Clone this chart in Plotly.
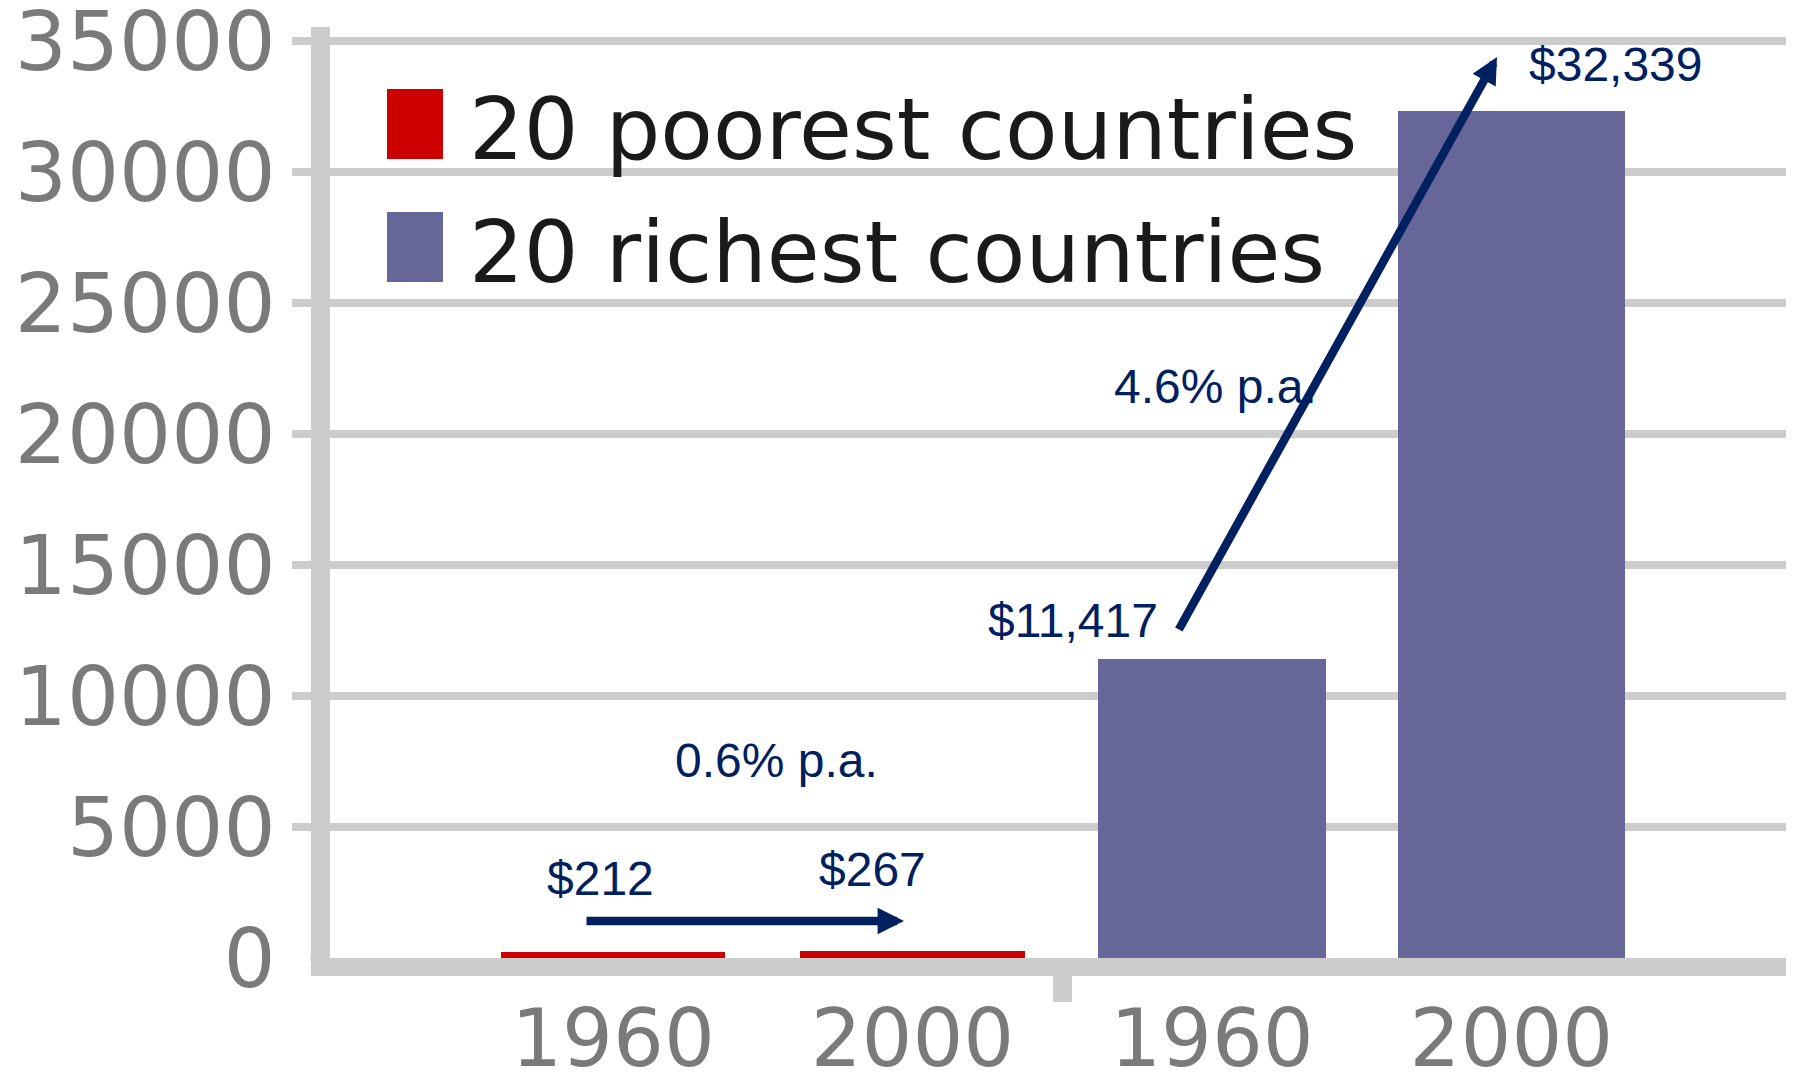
import plotly.graph_objects as go

# GDP per capita (constant US$), 20 poorest vs 20 richest countries
years = ["1960", "2000", "1960", "2000"]
poorest_values = [212, 267]
richest_values = [11417, 32339]
poorest_name = "20 poorest countries"
richest_name = "20 richest countries"
poorest_growth = "0.6% p.a."
richest_growth = "4.6% p.a."
y_ticks = [0, 5000, 10000, 15000, 20000, 25000, 30000, 35000]

RED = "#cc0000"
PURPLE = "#666699"
NAVY = "#002060"
GRID = "#cccccc"
TICK_GRAY = "#7a7a7a"

W, H = 1793, 1077
ML, MR, MT, MB = 330, 7, 27, 119
PW, PH = W - ML - MR, H - MT - MB

X_RANGE = [-0.945, 3.917]
Y_RANGE = [0, 35534]


def paper_x(px):
    return (px - ML) / PW


def paper_y(py):
    return (H - MB - py) / PH


def data_x(px):
    return X_RANGE[0] + (px - ML) / PW * (X_RANGE[1] - X_RANGE[0])


def data_y(py):
    return Y_RANGE[0] + (H - MB - py) / PH * (Y_RANGE[1] - Y_RANGE[0])


pos = list(range(len(years)))
poor_x = pos[:len(poorest_values)]
rich_x = pos[len(poorest_values):]

fig = go.Figure()
fig.add_trace(go.Bar(x=poor_x, y=poorest_values, name=poorest_name,
                     marker=dict(color=RED, line=dict(width=0)), width=0.75,
                     showlegend=False, hoverinfo="skip"))
fig.add_trace(go.Bar(x=rich_x, y=richest_values, name=richest_name,
                     marker=dict(color=PURPLE, line=dict(width=0)), width=0.76,
                     showlegend=False, hoverinfo="skip"))

y_tick_font = dict(family="DejaVu Sans", size=82, color=TICK_GRAY)
x_tick_font = dict(family="DejaVu Sans", size=80, color=TICK_GRAY)
label_font = dict(family="Liberation Sans, Arial", size=48, color=NAVY)

annotations = []

# value labels
annotations += [
    dict(x=poor_x[0], y=poorest_values[0], text="$212", showarrow=False,
         xanchor="center", yanchor="middle", xshift=-12, yshift=74, font=label_font),
    dict(x=poor_x[1], y=poorest_values[1], text="$267", showarrow=False,
         xanchor="center", yanchor="middle", xshift=-40, yshift=82, font=label_font),
    dict(x=rich_x[0], y=richest_values[0], text="$11,417", showarrow=False,
         xanchor="right", yanchor="middle", xshift=-52, yshift=38, font=label_font),
    dict(x=rich_x[1], y=richest_values[1], text="$32,339", showarrow=False,
         xanchor="left", yanchor="middle", xshift=16, yshift=46, font=label_font),
    dict(x=data_x(776), y=data_y(760), text=poorest_growth, showarrow=False,
         xanchor="center", yanchor="middle", font=label_font),
    dict(x=data_x(1215), y=data_y(386), text=richest_growth, showarrow=False,
         xanchor="center", yanchor="middle", font=label_font),
]

# growth arrows
arrow_style = dict(text="", showarrow=True, arrowhead=2, arrowsize=0.62,
                   arrowwidth=8.5, arrowcolor=NAVY, axref="x", ayref="y")
annotations += [
    dict(x=data_x(904), y=data_y(921), ax=data_x(585), ay=data_y(921), **arrow_style),
    dict(x=data_x(1497), y=data_y(57), ax=data_x(1178), ay=data_y(631), **arrow_style),
]

# legend text
legend_font = dict(family="DejaVu Sans", size=86, color="#1a1a1a")
annotations += [
    dict(xref="paper", yref="paper", x=paper_x(467), y=paper_y(129), text=poorest_name,
         showarrow=False, xanchor="left", yanchor="middle", font=legend_font),
    dict(xref="paper", yref="paper", x=paper_x(467), y=paper_y(252), text=richest_name,
         showarrow=False, xanchor="left", yanchor="middle", font=legend_font),
]

shapes = [
    # legend swatches
    dict(type="rect", xref="paper", yref="paper", x0=paper_x(387), x1=paper_x(443),
         y0=paper_y(159), y1=paper_y(89), fillcolor=RED, line=dict(width=0)),
    dict(type="rect", xref="paper", yref="paper", x0=paper_x(387), x1=paper_x(443),
         y0=paper_y(282), y1=paper_y(212), fillcolor=PURPLE, line=dict(width=0)),
    # no tick mark next to the zero label
    dict(type="rect", xref="paper", yref="paper", x0=paper_x(288), x1=paper_x(310.5),
         y0=paper_y(964), y1=paper_y(952), fillcolor="white", line=dict(width=0),
         layer="above"),
]

fig.update_layout(
    width=W, height=H,
    margin=dict(l=ML, r=MR, t=MT, b=MB, pad=0, autoexpand=False),
    paper_bgcolor="white", plot_bgcolor="white",
    bargap=0,
    showlegend=False,
    xaxis=dict(range=X_RANGE, tickvals=pos, ticktext=years, ticks="outside",
               ticklen=0, tickwidth=1, tickcolor="rgba(0,0,0,0)",
               ticklabelstandoff=-6,
               minor=dict(tickvals=[(pos[1] + pos[2]) / 2], ticks="outside",
                          ticklen=26, tickwidth=19, tickcolor=GRID, showgrid=False),
               showline=True, linewidth=18, linecolor=GRID, automargin=False,
               ticklabeloverflow="allow",
               showgrid=False, zeroline=False, tickfont=x_tick_font, fixedrange=True),
    yaxis=dict(range=Y_RANGE, tickvals=y_ticks, ticktext=[str(v) for v in y_ticks],
               ticks="outside", ticklen=19, tickwidth=8, tickcolor=GRID,
               showline=True, linewidth=19, linecolor=GRID, automargin=False,
               ticklabeloverflow="allow",
               showgrid=True, gridcolor=GRID, gridwidth=8,
               zeroline=False, tickfont=y_tick_font, fixedrange=True),
    annotations=annotations,
    shapes=shapes,
)

fig.write_html("out.html", config={"displayModeBar": False})
